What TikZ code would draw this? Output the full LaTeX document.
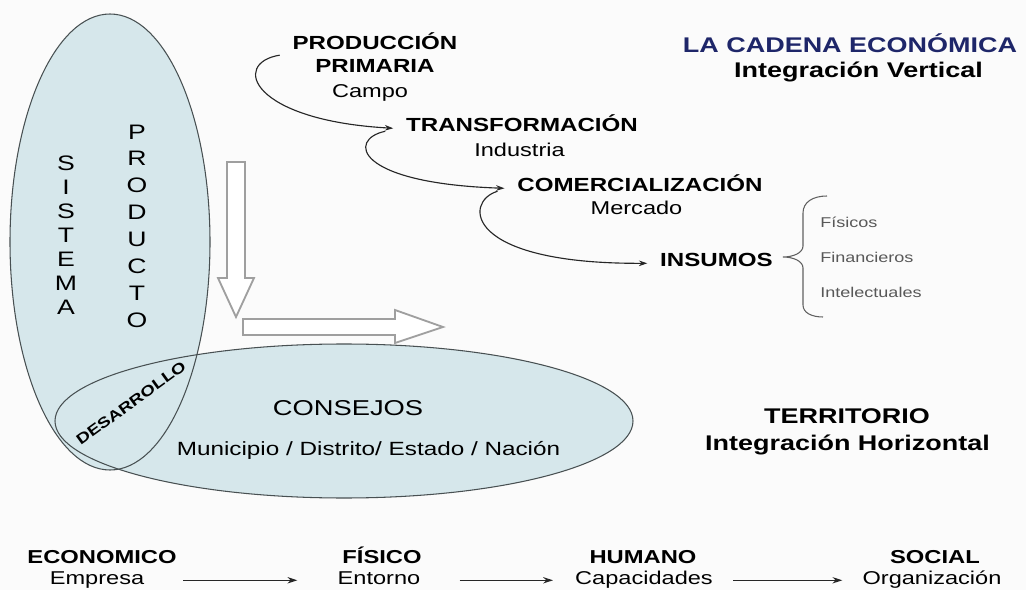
\documentclass[tikz,border=0pt]{standalone}
\usepackage{fontspec}
\setmainfont{Liberation Sans}[FakeStretch=1.27]
\usepackage{tikz}
\definecolor{zonecolor}{RGB}{214,231,235}
\definecolor{edgecolor}{RGB}{72,80,82}
\definecolor{titlecolor}{RGB}{30,38,105}
\definecolor{itemcolor}{RGB}{88,88,88}
\definecolor{backcolor}{RGB}{251,251,251}
\usetikzlibrary{arrows.meta,calc,positioning}
\tikzset{
	zone/.style={
		fill=zonecolor
	},
	zoneedge/.style={
		draw=edgecolor,
		line width=0.75pt
	},
	bigarrow/.style={
		draw=gray!75,
		line width=1.3pt,
		fill=white
	},
	chain/.style={
		draw=black!85,
		line width=0.8pt,
		-{Stealth[length=6pt,width=4pt]}
	},
	flow/.style={
		draw=black!85,
		line width=1pt,
		-{Stealth[length=7pt,width=4.5pt]}
	},
	brace/.style={
		draw=gray!75!black,
		line width=0.75pt
	},
	stage/.style={
		font=\bfseries\fontsize{13.5}{16}\selectfont,
		inner xsep=9pt,
		anchor=base
	},
	stagesub/.style={
		font=\fontsize{13.2}{15}\selectfont,
		anchor=base
	},
	heading/.style={
		font=\bfseries\fontsize{15.1}{18}\selectfont,
		anchor=base
	},
	letters/.style={
		align=center,
		inner sep=0pt
	},
	item/.style={
		font=\fontsize{10.1}{12}\selectfont,
		text=itemcolor,
		inner sep=0pt,
		anchor=base west
	},
	level/.style={
		font=\bfseries\fontsize{13.3}{15}\selectfont,
		inner xsep=0pt,
		anchor=base
	},
	levelsub/.style={
		font=\fontsize{13.2}{15}\selectfont,
		inner xsep=0pt,
		anchor=base
	},
}

\begin{document}
\begin{tikzpicture}[x=0.025cm,y=-0.025cm]
	\fill[backcolor] (0,0) rectangle (1026,590);
	\useasboundingbox (0,0) rectangle (1026,590);

	% zonas
	\fill[zone] (110,242) ellipse (100 and 228);
	\fill[zone] (344,421) ellipse (289 and 77);
	\draw[zoneedge] (110,242) ellipse (100 and 228);
	\draw[zoneedge] (344,421) ellipse (289 and 77);

	\node[letters,font=\fontsize{14.9}{17.1}\selectfont] (sis) at (66,235) {S\\I\\S\\T\\E\\M\\A};
	\node[letters,font=\fontsize{14.9}{19.1}\selectfont] (pro) at (137,226) {P\\R\\O\\D\\U\\C\\T\\O};
	\node[font=\bfseries\fontsize{10.5}{12}\selectfont,inner sep=0pt,rotate=36] (des) at (131,403) {DESARROLLO};
	\node[anchor=base,font=\fontsize{15.3}{18}\selectfont] (cons) at (348,415) {CONSEJOS};
	\node[anchor=base,font=\fontsize{13.6}{16}\selectfont] (muni) at (368.5,455) {Municipio / Distrito/ Estado / Nación};

	\draw[bigarrow] (227,162) -- (245,162) -- (245,278) -- (254,278) -- (236,317) -- (218,278) -- (227,278) -- cycle;
	\draw[bigarrow] (243,319) -- (395,319) -- (395,310) -- (443,327) -- (395,343) -- (395,335) -- (243,335) -- cycle;

	% cadena
	\node[stage] (prodA) at (375,50) {PRODUCCIÓN};
	\node[stage] (prodB) at (375,73) {PRIMARIA};
	\node[stagesub] (campo) at (370,98) {Campo};
	\node[stage] (trans) at (522,132) {TRANSFORMACIÓN};
	\node[stagesub] (indus) at (519.5,157) {Industria};
	\node[stage] (comer) at (640,192) {COMERCIALIZACIÓN};
	\node[stagesub] (merc) at (636.5,215) {Mercado};
	\node[stage] (ins) at (716.5,267) {INSUMOS};

	\draw[chain] (prodA.south west) .. controls +(-49,8) and +(-142,-8) .. (trans.mid west);
	\draw[chain] ($(trans.mid west)+(-8,3)$) .. controls +(-38,8) and +(-150,-5) .. (comer.mid west);
	\draw[chain] ($(comer.mid west)+(-7,3)$) .. controls +(-34,10) and +(-184,1) .. (ins.mid west);

	\node[item] (fis) at (820,228) {Físicos};
	\node[item,below=0.85cm of fis.base west,anchor=base west] (fin) {Financieros};
	\node[item,below=0.875cm of fin.base west,anchor=base west] (intel) {Intelectuales};
	\draw[brace] (827,196) .. controls (813,196) and (803,202) .. (803,213) -- (803,246)
		.. controls (803,253) and (793,257) .. (783,257)
		.. controls (793,257) and (803,261) .. (803,268) -- (803,305)
		.. controls (803,313) and (812,317) .. (823,317);

	\node[heading,text=titlecolor] (cad) at (850,53) {LA CADENA ECONÓMICA};
	\node[heading] (vert) at (858.5,78) {Integración Vertical};
	\node[heading] (terr) at (847,423) {TERRITORIO};
	\node[heading] (horiz) at (847.5,450) {Integración Horizontal};

	% niveles
	\node[level] (econ) at (102,563) {ECONOMICO};
	\node[levelsub] (emp) at (97,584) {Empresa};
	\node[level] (fisi) at (382,563) {FÍSICO};
	\node[levelsub] (ent) at (379,584) {Entorno};
	\node[level] (hum) at (643,563) {HUMANO};
	\node[levelsub] (cap) at (644,584) {Capacidades};
	\node[level] (soc) at (935,563) {SOCIAL};
	\node[levelsub] (org) at (932,584) {Organización};

	\draw[flow,shorten <=27.7pt,shorten >=28.5pt] (emp.mid east) -- (ent.mid west);
	\draw[flow,shorten <=27.7pt,shorten >=15.6pt] (ent.mid east) -- (cap.mid west);
	\draw[flow,shorten <=14.2pt,shorten >=14.2pt] (cap.mid east) -- (org.mid west);
\end{tikzpicture}
\end{document}
